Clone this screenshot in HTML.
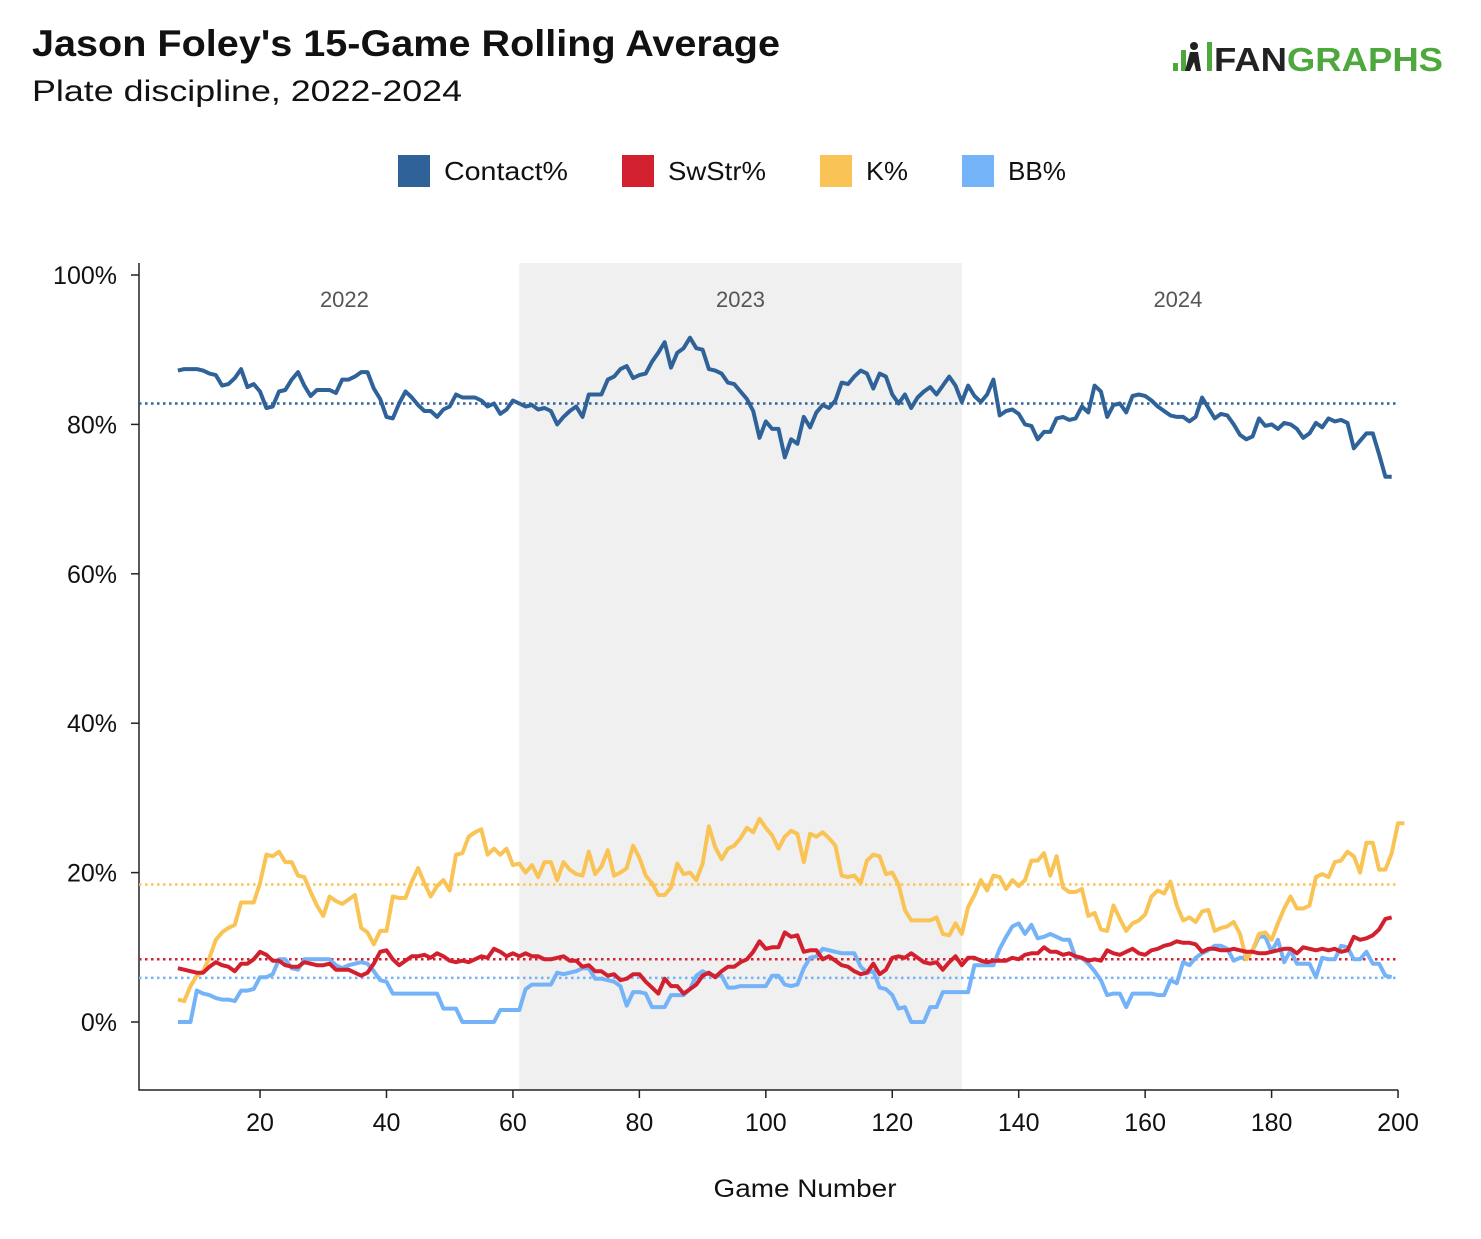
<!DOCTYPE html>
<html><head><meta charset="utf-8"><style>
body{margin:0;background:#fff;font-family:"Liberation Sans",sans-serif;}
#wrap{position:relative;width:1481px;height:1239px;overflow:hidden;}
</style></head><body>
<div id="wrap">
<svg id="svg" width="1481" height="1239" xmlns="http://www.w3.org/2000/svg">
<text x="32" y="56" font-size="37" font-weight="bold" fill="#111" textLength="748" lengthAdjust="spacingAndGlyphs">Jason Foley's 15-Game Rolling Average</text>
<text x="32" y="101" font-size="30" fill="#111" textLength="430" lengthAdjust="spacingAndGlyphs">Plate discipline, 2022-2024</text>
<g>
<rect x="1173" y="63" width="5" height="8" fill="#4fa83d"/><rect x="1181" y="50" width="5" height="21" fill="#4fa83d"/><rect x="1207" y="42" width="5" height="29" fill="#4fa83d"/>
<text x="1214" y="71" font-size="33" font-weight="bold" fill="#222" textLength="229" lengthAdjust="spacingAndGlyphs">FAN<tspan fill="#4fa83d">GRAPHS</tspan></text>
<circle cx="1194" cy="46" r="4" fill="#222"/><path d="M1190 52 L1198 52 L1201 71 L1196 71 L1194 62 L1190 71 L1185 71 Z" fill="#222"/>
</g>
<g id="legend"></g>
<g id="plot"></g>
<text x="805" y="1197" font-size="25" text-anchor="middle" fill="#111" textLength="183" lengthAdjust="spacingAndGlyphs">Game Number</text>
</svg></div>
<script>
const seriesNames=["Contact%","SwStr%","K%","BB%"];
const seriesColors=["#2e6299","#d3202f","#f9c455","#74b3f7"];
const startGame=7;
const contact=[87.2,87.4,87.4,87.4,87.2,86.8,86.6,85.2,85.4,86.2,87.4,85,85.4,84.4,82.2,82.4,84.4,84.6,86,87,85.2,83.8,84.6,84.6,84.6,84.2,86,86,86.4,87,87,84.8,83.4,81,80.8,82.8,84.4,83.6,82.6,81.8,81.8,81,82,82.4,84,83.6,83.6,83.6,83.2,82.4,82.8,81.4,82,83.2,82.8,82.4,82.6,82,82.2,81.8,80,81,81.8,82.4,81,84,84,84,86,86.4,87.4,87.8,86.2,86.6,86.8,88.4,89.6,91,87.6,89.6,90.2,91.6,90.2,90,87.4,87.2,86.8,85.6,85.4,84.4,83.4,81.8,78.2,80.4,79.4,79.4,75.6,78,77.4,81,79.6,81.6,82.6,82.2,83.2,85.6,85.4,86.4,87.2,86.8,84.8,86.8,86.4,84,82.8,84,82.2,83.6,84.4,85,84,85.2,86.4,85.2,83,85.2,83.8,83,84,86,81.2,81.8,82,81.4,80,79.8,78,79,79,80.8,81,80.6,80.8,82.4,81.6,85.2,84.4,81,82.6,82.8,81.6,83.8,84,83.8,83.2,82.4,81.8,81.2,81,81,80.4,81,83.6,82.2,80.8,81.4,81.2,80,78.6,78,78.4,80.8,79.8,80,79.4,80.2,80,79.4,78.2,78.8,80.2,79.6,80.8,80.4,80.6,80.2,76.8,77.8,78.8,78.8,76,73,73];
const swstr=[7.2,7,6.8,6.6,6.6,7.4,8,7.6,7.4,6.8,7.8,7.8,8.4,9.4,9,8.2,8.2,7.6,7.4,7.4,8,7.8,7.6,7.6,7.8,7,7,7,6.6,6.2,6.6,7.8,9.4,9.6,8.4,7.6,8.2,8.8,8.8,9,8.6,9.2,8.8,8.2,8,8.2,8,8.4,8.8,8.6,9.8,9.4,8.8,9.2,8.8,9.2,8.8,8.8,8.4,8.4,8.6,8.8,8.2,8.2,7.4,7.6,6.8,6.8,6.2,6.4,5.6,5.8,6.4,6.4,5.4,4.6,3.8,5.8,4.8,4.8,3.8,4.4,5,6.2,6.6,6,6.8,7.4,7.4,8,8.4,9.4,10.8,9.8,10,10,12,11.4,11.6,9.4,9.6,9.6,8.4,8.8,8.2,7.6,7.4,6.8,6.4,6.6,7.8,6.4,7,8.6,8.8,8.6,9.2,8.6,8,7.8,8,7,8,8.8,7.6,8.6,8.6,8.2,8,8.2,8.2,8.2,8.6,8.4,9,9.2,9.2,10,9.4,9.4,9,9.2,8.8,8.6,8.2,8.4,8.2,9.6,9.2,9,9.4,9.8,9.2,9,9.6,9.8,10.2,10.4,10.8,10.6,10.6,10.4,9.4,9.8,9.8,9.6,9.6,9.8,9.6,9.4,9.4,9.2,9.2,9.4,9.6,9.8,9.8,9.2,10,9.8,9.6,9.8,9.6,9.8,9.4,9.6,11.4,11,11.2,11.6,12.4,13.8,14];
const kpct=[3,2.8,4.8,6.2,6.8,8.6,11,12,12.6,13,16,16,16,18.6,22.4,22.2,22.8,21.4,21.4,19.6,19.4,17.4,15.6,14.2,16.8,16.2,15.8,16.4,17,12.6,12,10.4,12.2,12.2,16.8,16.6,16.6,18.8,20.6,18.6,16.8,18.2,19,17.6,22.4,22.6,24.8,25.4,25.8,22.4,23.2,22.4,23.2,21,21.2,20,21,19.4,21.4,21.4,19,21.4,20.4,19.8,19.6,22.8,19.8,20.8,23,19.6,20,20.6,23.6,22,19.6,18.6,17,17,18,21.2,19.8,20,19,21.2,26.2,23.4,21.8,23.2,23.6,24.6,26,25.4,27.2,26,25,23.2,24.8,25.6,25.2,21.4,25.2,24.8,25.4,24.6,23.6,19.6,19.4,19.6,18.6,21.6,22.4,22.2,19.8,20,18.4,15,13.6,13.6,13.6,13.6,14,11.8,11.6,13.2,11.8,15.4,17,19,17.6,19.6,19.4,17.8,19,18.2,19,21.6,21.6,22.6,19.6,22.2,18,17.4,17.4,17.8,14.2,14.6,12.4,12.2,15.6,13.8,12.2,13.2,13.6,14.4,16.8,17.6,17.2,18.8,15.6,13.6,14,13.4,14.8,15,12.2,12.6,12.8,13.4,11.8,8.4,9.6,11.8,12,11,13.2,15.2,16.8,15.2,15.2,15.6,19.4,19.8,19.4,21.4,21.6,22.8,22.2,20,24,24,20.4,20.4,22.6,26.6,26.6];
const bbpct=[0,0,0,4.2,3.8,3.6,3.2,3,3,2.8,4.2,4.2,4.4,6,6,6.4,8.4,8.4,7.2,7,8.4,8.4,8.4,8.4,8.4,7.6,7.2,7.6,7.8,8,7.8,6.8,5.6,5.4,3.8,3.8,3.8,3.8,3.8,3.8,3.8,3.8,1.8,1.8,1.8,0,0,0,0,0,0,1.6,1.6,1.6,1.6,4.4,5,5,5,5,6.6,6.4,6.6,6.8,7.2,7.2,5.8,5.8,5.6,5.4,4.8,2.2,4,4,3.8,2,2,2,3.6,3.6,3.6,4.4,6.2,6.8,6.4,6.2,6.2,4.6,4.6,4.8,4.8,4.8,4.8,4.8,6.2,6.2,5,4.8,5,7.2,8.6,8.8,9.8,9.6,9.4,9.2,9.2,9.2,7.4,6.6,6.8,4.6,4.4,3.6,1.8,2,0,0,0,2,2,4,4,4,4,4,7.6,7.6,7.6,7.6,9.8,11.4,12.8,13.2,11.8,13,11.2,11.4,11.8,11.4,11,11,8.6,8.6,7.8,6.8,5.6,3.6,3.8,3.8,2,3.8,3.8,3.8,3.8,3.6,3.6,5.6,5.2,8,7.6,8.6,9.2,9.6,10.2,10.2,9.8,8.2,8.6,8.6,9.6,11.4,11.4,9.4,11,8,9.6,7.8,7.8,7.8,6,8.6,8.4,8.4,10.2,10,8.4,8.4,9.4,7.8,7.8,6.2,6];
const averages=[82.8,8.4,18.4,5.9];
const yTicks=[0,20,40,60,80,100];
const xTicks=[20,40,60,80,100,120,140,160,180,200];
const seasons=["2022","2023","2024"];
const seasonBounds=[[0,61],[61,131],[131,200]];
const NS="http://www.w3.org/2000/svg";
const xs=g=>133.6+g*6.3222;
const ys=v=>1022-v*7.47;
const plot=document.getElementById('plot');
function mk(tag,attrs,parent){const e=document.createElementNS(NS,tag);for(const k in attrs)e.setAttribute(k,attrs[k]);(parent||plot).appendChild(e);return e;}
let sh=mk('rect',{x:xs(seasonBounds[1][0]),y:263,width:xs(seasonBounds[1][1])-xs(seasonBounds[1][0]),height:827,fill:"#f0f0f0"});


seasons.forEach((s,i)=>{const cx=i==0?(xs(seasonBounds[0][0])+xs(seasonBounds[0][1]))/2+18:i==2?(xs(seasonBounds[2][0])+xs(seasonBounds[2][1]))/2-2:(xs(seasonBounds[1][0])+xs(seasonBounds[1][1]))/2;
const t=mk('text',{x:cx,y:307,"font-size":22,"text-anchor":"middle",fill:"#555"});t.textContent=s;

});
let ax=mk('path',{d:"M139 263 L139 1090 L1398 1090",stroke:"#222","stroke-width":1.5,fill:"none"});


yTicks.forEach(v=>{mk('line',{x1:131,x2:139,y1:ys(v),y2:ys(v),stroke:"#222","stroke-width":1.5});
const t=mk('text',{x:117,y:ys(v)+9,"font-size":25,"text-anchor":"end",fill:"#111"});t.textContent=v+"%";

});
xTicks.forEach(v=>{mk('line',{x1:xs(v),x2:xs(v),y1:1090,y2:1098,stroke:"#222","stroke-width":1.5});
const t=mk('text',{x:xs(v),y:1131,"font-size":25,"text-anchor":"middle",fill:"#111"});t.textContent=v;

});
averages.forEach((a,i)=>{const l=mk('line',{x1:139,x2:1398,y1:ys(a),y2:ys(a),stroke:seriesColors[i],"stroke-width":2.5,"stroke-dasharray":"2.5,3.5"});

});
const allSeries=[contact,swstr,kpct,bbpct];
[3,2,1,0].forEach(i=>{const d=allSeries[i].map((v,j)=>(j?"L":"M")+xs(startGame+j).toFixed(1)+" "+ys(v).toFixed(1)).join(" ");
const p=mk('path',{d:d,stroke:seriesColors[i],"stroke-width":4,fill:"none","stroke-linejoin":"round"});

});
const lg=document.getElementById('legend');const lx=[398,622,820,962];const lw=[124,98,42,58];
seriesNames.forEach((n,i)=>{const g=mk('g',{},lg);


mk('rect',{x:lx[i],y:155,width:32,height:32,fill:seriesColors[i]},g);
const t=mk('text',{x:lx[i]+46,y:180,"font-size":26,fill:"#111",textLength:lw[i],lengthAdjust:"spacingAndGlyphs"},g);t.textContent=n;});
</script>
</body></html>
